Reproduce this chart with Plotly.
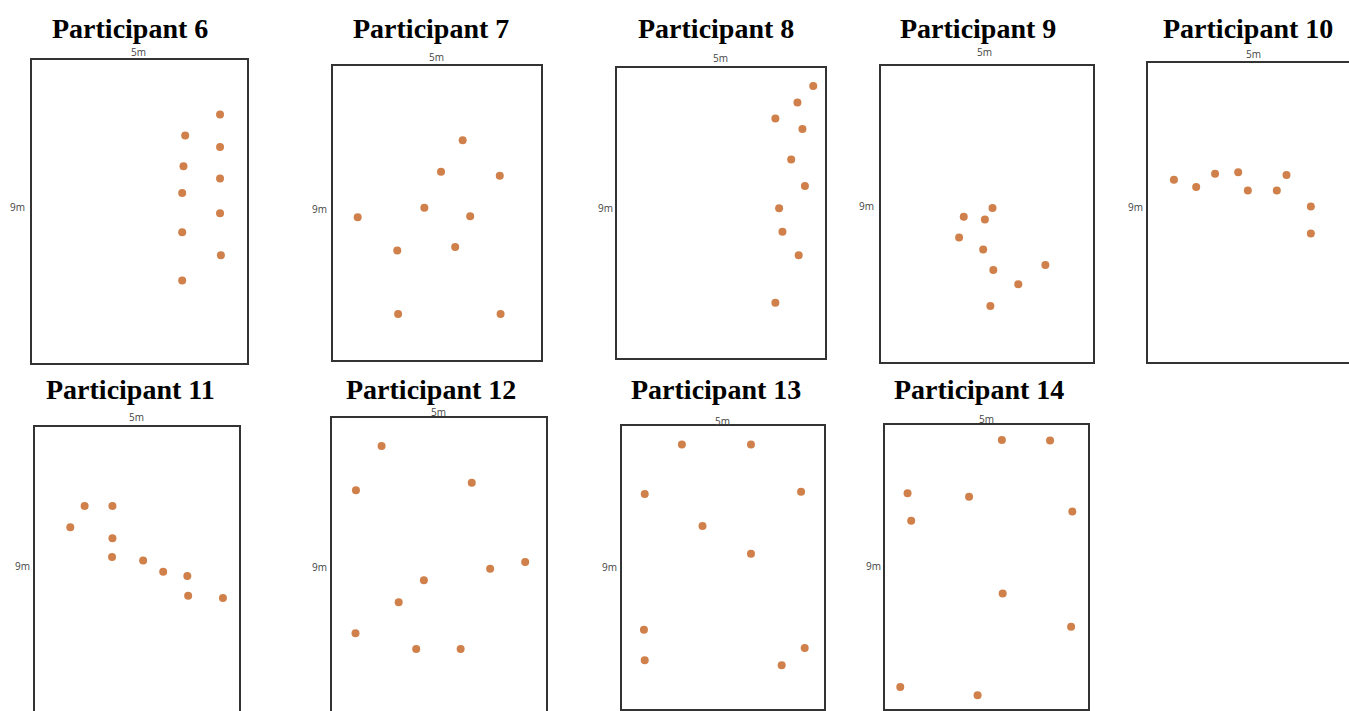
import plotly.graph_objects as go

W_PX, H_PX = 1349, 711

# ---------------- data (metres; x across 5 m, y up along 9 m) ----------------
titles = ["Participant 6", "Participant 7", "Participant 8", "Participant 9", "Participant 10",
          "Participant 11", "Participant 12", "Participant 13", "Participant 14"]

p6_x = [4.38, 3.57, 4.38, 3.53, 4.38, 3.50, 4.38, 3.50, 4.40, 3.50]
p6_y = [7.39, 6.76, 6.42, 5.85, 5.48, 5.05, 4.45, 3.88, 3.20, 2.45]

p7_x = [3.12, 2.60, 4.01, 2.20, 0.60, 3.30, 1.55, 2.94, 1.57, 4.03]
p7_y = [6.72, 5.75, 5.63, 4.65, 4.36, 4.39, 3.34, 3.45, 1.40, 1.40]

p8_x = [4.71, 4.33, 3.80, 4.45, 4.18, 4.51, 3.89, 3.97, 4.36, 3.80]
p8_y = [8.43, 7.92, 7.43, 7.10, 6.16, 5.34, 4.65, 3.92, 3.19, 1.72]

p9_x = [2.63, 1.95, 2.45, 1.84, 2.41, 2.65, 3.88, 3.24, 2.58]
p9_y = [4.68, 4.42, 4.33, 3.79, 3.42, 2.80, 2.95, 2.37, 1.71]

p10_x = [0.61, 1.14, 1.59, 2.14, 2.37, 3.06, 3.29, 3.87, 3.87]
p10_y = [5.48, 5.26, 5.66, 5.70, 5.15, 5.15, 5.62, 4.67, 3.86]

p11_x = [1.22, 1.90, 0.87, 1.90, 1.89, 2.65, 3.14, 3.73, 3.75, 4.60]
p11_y = [6.54, 6.54, 5.88, 5.54, 4.96, 4.85, 4.50, 4.37, 3.75, 3.68]

p12_x = [1.16, 0.56, 3.27, 4.52, 3.70, 2.15, 1.56, 0.55, 1.97, 3.01]
p12_y = [8.17, 6.84, 7.07, 4.69, 4.49, 4.14, 3.48, 2.55, 2.08, 2.08]

p13_x = [1.49, 3.20, 0.57, 4.44, 2.00, 3.20, 0.55, 0.57, 4.53, 3.96]
p13_y = [8.41, 8.41, 6.84, 6.91, 5.82, 4.94, 2.53, 1.56, 1.95, 1.40]

p14_x = [2.88, 4.07, 0.55, 2.07, 4.62, 0.64, 2.90, 4.59, 0.37, 2.28]
p14_y = [8.53, 8.52, 6.84, 6.73, 6.26, 5.97, 3.66, 2.60, 0.69, 0.43]

width_label = "5m"
length_label = "9m"
room_w, room_l = 5, 9

series_x = [p6_x, p7_x, p8_x, p9_x, p10_x, p11_x, p12_x, p13_x, p14_x]
series_y = [p6_y, p7_y, p8_y, p9_y, p10_y, p11_y, p12_y, p13_y, p14_y]

# ---------------- layout (pixel boxes: left, right, top, bottom) ----------------
boxes = [
    (31.7, 246.7, 60.3, 362.7),
    (332.7, 541.0, 65.7, 359.7),
    (617.3, 825.3, 67.7, 358.3),
    (881.3, 1092.7, 65.7, 362.3),
    (1148.3, 1358.3, 62.7, 361.7),
    (34.7, 239.3, 426.7, 716.7),
    (332.0, 545.7, 418.3, 718.3),
    (621.7, 823.7, 426.0, 709.3),
    (885.3, 1087.7, 425.3, 708.7),
]
title_pos = [(130, 29), (431, 29), (716, 29), (978, 29), (1248, 29),
             (130, 389), (430.5, 389), (716, 389), (978.5, 389)]
wlab_pos = [(138, 52), (436.7, 56.7), (720.7, 58.3), (985, 52.3), (1253.3, 54.3),
            (136.7, 416.7), (438.3, 412.3), (722.7, 421), (986.7, 419.3)]
llab_pos = [(17, 207), (319.3, 208.7), (605, 208.3), (866.7, 205.7), (1135, 207.3),
            (22, 565.7), (319, 567.3), (609, 566.7), (873, 566)]

DOT = "#D0804A"
LINE = "#333333"

fig = go.Figure()
annotations = []

for i, (L, R, T, B) in enumerate(boxes):
    n = "" if i == 0 else str(i + 1)
    visR = min(R, W_PX)
    visB = min(B, H_PX)
    xr = [0, room_w * (visR - L) / (R - L)]
    yr = [room_l * (B - visB) / (B - T), room_l]
    clip_right = R > W_PX
    clip_bottom = B > H_PX

    fig.add_trace(go.Scatter(
        x=series_x[i], y=series_y[i], mode="markers",
        marker=dict(size=8, color=DOT, line=dict(width=0)),
        xaxis="x" + n, yaxis="y" + n, showlegend=False, hoverinfo="x+y",
        cliponaxis=False,
    ))

    xa = dict(domain=[L / W_PX, visR / W_PX], range=xr, anchor="y" + n,
              showgrid=False, zeroline=False, showticklabels=False, ticks="",
              showline=True, linecolor=LINE, linewidth=2,
              mirror=(not clip_bottom), side=("top" if clip_bottom else "bottom"))
    ya = dict(domain=[1 - visB / H_PX, 1 - T / H_PX], range=yr, anchor="x" + n,
              showgrid=False, zeroline=False, showticklabels=False, ticks="",
              showline=True, linecolor=LINE, linewidth=2,
              mirror=(not clip_right), side="left")
    fig.update_layout(**{"xaxis" + n: xa, "yaxis" + n: ya})

    tx, ty = title_pos[i]
    annotations.append(dict(
        text=titles[i], x=tx / W_PX, y=1 - ty / H_PX, xref="paper", yref="paper",
        xanchor="center", yanchor="middle", showarrow=False,
        font=dict(family="Liberation Serif", size=28, color="#000000", weight="bold")))
    wx, wy = wlab_pos[i]
    annotations.append(dict(
        text=width_label, x=wx / W_PX, y=1 - wy / H_PX, xref="paper", yref="paper",
        xanchor="center", yanchor="middle", showarrow=False,
        font=dict(family="Open Sans", size=10, color="#444444")))
    lx, ly = llab_pos[i]
    annotations.append(dict(
        text=length_label, x=lx / W_PX, y=1 - ly / H_PX, xref="paper", yref="paper",
        xanchor="center", yanchor="middle", showarrow=False,
        font=dict(family="Open Sans", size=10, color="#444444")))

fig.update_layout(
    width=W_PX, height=H_PX,
    margin=dict(l=0, r=0, t=0, b=0),
    paper_bgcolor="white", plot_bgcolor="white",
    annotations=annotations,
    showlegend=False,
)

fig.write_html("out.html", config={"displayModeBar": False},
               post_script="document.body.style.margin='0';document.body.style.overflow='hidden';")
